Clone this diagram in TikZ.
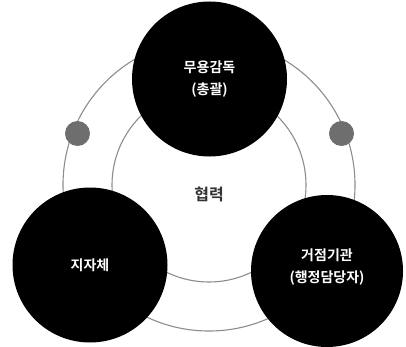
\documentclass[tikz,border=0pt]{standalone}
\usepackage{fontspec}
\newfontfamily\kr{Noto Sans CJK KR}[BoldFont={* Bold}]
\definecolor{ring}{HTML}{8C8C8C}
\definecolor{dotc}{HTML}{6E6E6E}
\definecolor{midtext}{HTML}{333333}
\begin{document}
\begin{tikzpicture}[x=1pt,y=1pt,
  ringline/.style={draw=ring,line width=1.1pt},
  bigdisk/.style={circle,fill=black,minimum size=155pt,inner sep=0pt},
  dotdisk/.style={circle,fill=dotc,minimum size=25pt,inner sep=0pt},
  wlabel/.style={text=white,font=\kr\bfseries\fontsize{14}{22}\selectfont,align=center}]
\useasboundingbox (0,0) rectangle (406,346);
\coordinate (c) at (209,161);
\draw[ringline] (c) circle (146);
\draw[ringline] (c) circle (97);
\node[dotdisk] (d1) at (77.5,212.5) {};
\node[dotdisk] (d2) at (341.5,212.5) {};
\node[bigdisk] (top) at (209.5,267) {};
\node[bigdisk] (left) at (90,81) {};
\node[bigdisk,minimum size=152pt] (right) at (327,75) {};
\node[wlabel] (tl) at (top.center) {무용감독\\(총괄)};
\node[wlabel] (ll) at (left.center) {지자체};
\node[wlabel] (rl) at ([yshift=4pt]right.center) {거점기관\\(행정담당자)};
\node[text=midtext,font=\kr\bfseries\fontsize{16}{18}\selectfont] (mid) at (209,152) {협력};
\end{tikzpicture}
\end{document}
